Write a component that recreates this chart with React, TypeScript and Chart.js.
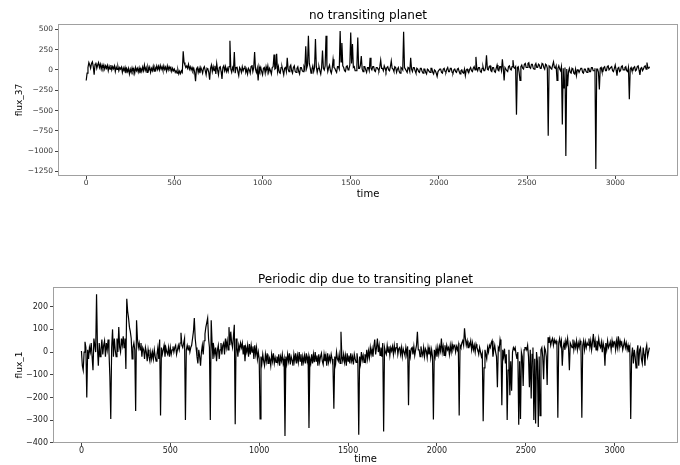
import React, { useEffect, useRef } from 'react';
import { Chart, registerables } from 'chart.js';

Chart.register(...registerables);

// sampling step of the light curves (time units per sample)
const timeStep = 5;

// "no transiting planet" light curve (flux_37), one value per 5 time units
const flux37: number[] = [
  -130, -40, 30, 90, 60, 20, 80, 100, 40, -60, 70, 90, 20, 60, 90, 30, 70, 10, 60, 20,
  60, 10, 50, 20, 55, -10, 45, 10, 60, 0, 40, 15, 50, -20, 35, 5, 40, -10, 30, 10,
  35, -30, 25, -10, 30, -40, 15, -20, 20, -50, 10, -30, 25, -20, 15, -40, 30, -10, 20, -25,
  25, -40, 15, -20, 35, -10, 60, -5, 30, -30, 40, 0, 35, -30, 20, -10, 45, -15, 30, 0,
  50, 5, 45, 0, 55, 10, 40, -5, 50, 5, 35, -15, 50, 0, 40, 10, 30, -20, 20, -10,
  10, -30, -10, -40, 0, -50, -15, -45, -10, -30, 230, 90, 60, 30, 50, 20, 70, 10, 40, 0,
  30, -10, 20, -30, -140, 10, 30, -30, 20, -40, 30, 0, -40, 20, 40, -10, -60, 20, 10, -30,
  -120, 20, 60, -20, 40, -10, 50, -50, 80, 0, -60, 30, 40, -20, -110, 30, 50, -10, 40, -20,
  20, -20, 40, 360, 10, -30, 30, 0, 220, -40, 30, 40, -20, -70, 30, 10, -30, 40, -10, 20,
  50, -30, 10, -50, 20, 0, -40, 40, 60, -20, 30, 220, 10, -30, 20, -130, 40, -10, 30, -20,
  -60, 20, 30, -40, 40, -10, 50, -30, 20, -10, -50, 30, 40, 190, 10, 20, 200, -20, 40, -30,
  -40, 30, 40, -10, -60, 20, 30, -20, 150, 10, -20, 40, 60, -10, -40, 30, 50, -20, -30, 20,
  40, -20, -50, 30, 30, -10, -20, 40, 10, 290, 20, 60, 420, 80, 30, -40, 10, 50, -20, 30,
  380, 40, -30, 20, 40, -10, -50, 30, 240, 20, 0, 50, 420, 60, -20, 30, 60, -10, -40, 20,
  130, 30, 20, -10, -30, 40, 40, 10, 480, 100, 330, 50, 30, -10, -20, 40, 50, 0, 10, 60,
  460, 80, 320, 30, 40, -10, -10, 50, 400, 20, 20, 60, 170, 10, -20, 40, 40, 0, -30, 30,
  30, -10, 150, 20, 0, 40, 40, -10, -20, 30, 30, 10, -10, 40, 120, 20, 20, -10, 50, 20,
  -20, 30, 40, 0, -10, 40, 110, 20, 10, -20, 40, 30, -30, 10, 30, -20, -40, 30, 20, 0,
  470, 30, 10, -10, -30, 30, 20, -20, 150, 10, -20, 30, 30, -10, -40, 20, 10, -20, -30, 20,
  20, -20, -40, 10, 10, -30, -50, 10, 0, -20, -30, 20, 20, -30, -50, 0, -10, -40, -80, -20,
  -20, 10, 10, -30, -40, 10, 20, -20, -30, 10, 30, -20, -20, 20, 20, -30, -40, 0, 10, -20,
  -30, 10, 20, -20, -50, -10, 0, -30, -40, 10, -70, 0, 10, -20, -30, 10, 30, -10, -20, 20,
  40, 0, 160, 20, -10, 30, 30, -20, -30, 20, 40, -10, -10, 30, 180, 10, 0, 40, 50, -10,
  -20, 30, 30, -20, -30, 20, 60, 0, -10, 40, 40, -10, 130, 20, -130, 30, 30, -10, -20, 40,
  50, 10, 0, 40, 120, 30, 20, 40, -550, 30, 40, -30, -130, 40, 60, 20, 10, 70, 80, 30,
  30, 80, 90, 30, 20, 70, 70, 20, 10, 60, 80, 30, 30, 70, 60, 20, 20, 80, 70, 30,
  10, 70, 60, 20, -810, 50, 40, 20, 10, 60, 100, 30, 20, 50, -130, 20, 50, 10, -10, 40,
  -670, 20, -220, 30, -1060, 10, -200, -20, 20, -30, -40, 20, 10, -40, -50, 10, -70, 0, 0, -30,
  -30, 20, 20, -30, -40, 10, 10, -20, -30, 20, 20, -20, -20, 30, 30, -10, -10, 20, -1220, 10,
  10, -30, -240, 20, 30, -20, -20, 30, 40, -10, -10, 40, 50, 0, 0, 30, 40, -10, -20, 20,
  60, 0, -70, 20, 30, -20, -10, 40, 50, 0, 0, 30, 40, -10, -20, 30, -360, 10, 30, -10,
  -10, 30, 40, -10, 0, 40, 50, 0, -60, 20, 30, -10, 10, 40, 50, 10, 90, 30, 20, 40,
];

// "Periodic dip due to transiting planet" light curve (flux_1), one value per 5 time units
const flux1: number[] = [
  5, -60, -80, 0, 45, 20, -200, 10, -30, 20, 0, 40, -20, -80, 60, 30, 0, 255, 20, -60,
  40, -20, 10, 55, -10, 30, 50, -20, 40, 10, 55, 0, -110, -295, 20, 100, -20, 60, 10, -20,
  60, 0, 110, 20, 0, 60, 30, 70, 20, 60, -75, 235, 180, 150, 110, 90, 60, -30, 20, 40,
  10, -260, 140, 60, 20, 40, 10, 40, -20, 20, 10, -30, 20, 0, -40, 10, -20, -40, 0, -30,
  0, -30, 10, -20, -40, -10, 20, -30, 55, -280, 20, -10, 10, 30, -20, 20, 0, -10, 20, -20,
  20, -10, 10, 25, 0, 20, 30, -10, 10, 30, 10, 40, 85, 30, 20, 40, 60, -300, 10, 30,
  10, 30, 0, 20, 30, 60, 90, 150, 60, 20, -20, -50, 10, -20, -60, 0, 30, -10, 50, 80,
  110, 130, 150, 60, 20, -300, 140, 40, -30, 20, -10, 20, -40, 10, 30, -30, 10, 40, -10, 30,
  40, -10, 60, 20, 50, 10, 110, 30, 90, 40, 20, 70, 120, -318, 60, 20, -20, 30, 10, 40,
  20, 40, -10, 30, -40, 20, 0, 30, -20, 35, -10, 30, 0, 25, -30, 30, -10, 20, -30, 0,
  -30, -295, -20, -50, -10, -40, -60, -10, -40, -5, -50, -20, -30, -60, -10, -40, -5, -50, -25, -45,
  -20, -45, -10, -60, -20, -40, -10, -50, -30, -370, -20, -50, -10, -40, -5, -55, -20, -35, -60, -10,
  -40, -5, -50, -15, -45, 0, -40, -10, -60, -20, -45, -15, -50, -5, -40, -20, -335, -30, -50, -10,
  -50, -10, -45, 0, -40, -15, -60, -10, -45, -20, -5, -40, -55, -10, -40, -15, -60, -5, -45, -20,
  -40, -10, -30, -60, -250, -20, -50, 0, -30, -40, -10, -50, 90, -20, -40, -10, -45, -15, -60, -5,
  -40, -15, -50, -5, -40, -20, -55, -10, -30, -45, -5, -40, -365, -20, -50, 0, -35, -15, -45, -10,
  -35, 10, -30, 5, -25, 20, -10, 15, -20, 25, 55, -10, 20, 60, 0, 30, -15, 20, -20, 40,
  -350, 20, 0, -10, 30, 0, 25, -15, 20, 5, 25, -10, 30, 0, 20, 40, -10, 15, 20, -10,
  20, -20, 15, 0, -15, 20, -10, 25, -235, 10, -20, 15, 20, -10, 25, -15, 10, 30, 90, 10,
  10, -20, 25, 0, -15, 20, -20, 15, 5, -25, 20, -10, 15, -25, 10, -20, -297, 10, -20, 15,
  -20, 20, -10, 25, 5, 60, 0, 25, -15, 30, -5, 30, 10, 20, -10, 30, 0, 35, 10, 25,
  30, 0, 25, 10, 30, -280, 30, 20, 40, 50, 30, 105, 60, 30, 50, 20, 40, 30, 50, 10,
  40, 10, 30, 0, 35, 20, 10, -10, 20, 0, -20, -5, -305, -70, 10, -10, -30, 20, 0, 30,
  20, 40, 50, -20, 10, 30, 0, -20, -155, 20, 10, 55, 30, -235, 10, -20, 15, -50, -10, -300,
  -80, 10, -190, -40, -170, 0, 20, 10, 20, -10, -30, 0, -320, -40, -295, 0, -20, -150, 10, 20,
  20, 10, 30, -20, -155, 10, -205, -10, 20, -300, -30, -315, 0, -40, -330, -20, -280, 10, 20, -20,
  -120, 20, 10, -20, -145, 65, 40, 60, 30, 50, 60, 30, 55, 40, 50, 30, -290, 40, 60, 30,
  50, -60, 20, 40, 10, 50, 30, 60, 20, -80, 40, 30, 20, 55, 10, 40, 20, 50, 10, 40,
  20, 50, 30, -290, 30, 50, 10, 45, 20, 40, 30, 60, 20, 50, 10, 45, 80, 20, 50, 10,
  50, 20, 60, 30, 20, 45, 0, 40, 20, -60, 40, 10, 50, 20, 30, 45, 10, 50, 20, 40,
  45, 10, 50, 20, 70, 20, 50, 30, 40, 10, 30, 50, 20, 40, 10, 30, 0, 20, -295, -20,
  20, -50, 10, -20, -70, 0, 30, -60, 10, 20, -30, -50, 20, -10, -60, 10, 30, -20, 0, 20,
];

const xTicks = [0, 500, 1000, 1500, 2000, 2500, 3000];
const topYTicks = [500, 250, 0, -250, -500, -750, -1000, -1250];
const bottomYTicks = [200, 100, 0, -100, -200, -300, -400];

const topTitle = 'no transiting planet';
const bottomTitle = 'Periodic dip due to transiting planet';
const topYLabel = 'flux_37';
const bottomYLabel = 'flux_1';
const xLabel = 'time';

const FONT = "'DejaVu Sans', 'Liberation Sans', sans-serif";

const framePlugin = {
  id: 'frame',
  afterDraw(chart: any) {
    const { ctx, chartArea: a } = chart;
    ctx.save();
    ctx.strokeStyle = '#a0a0a0';
    ctx.lineWidth = 1;
    ctx.strokeRect(
      Math.round(a.left) + 0.5,
      Math.round(a.top) + 0.5,
      Math.round(a.right) - Math.round(a.left) - 1,
      Math.round(a.bottom) - Math.round(a.top) - 1
    );
    ctx.restore();
  },
};

const fmt = (v: number) => String(v).replace('-', '\u2212');

type PanelProps = {
  values: number[];
  yTicks: number[];
  yMin: number;
  yMax: number;
  title: string;
  yLabel: string;
  yWidth: number;
  xHeight: number;
  titlePadTop: number;
  titlePadBottom: number;
  tickSize: number;
  tickColor: string;
  height: number;
};

function Panel(p: PanelProps) {
  const ref = useRef<HTMLCanvasElement | null>(null);
  useEffect(() => {
    if (!ref.current) return;
    const data = p.values.map((v, i) => ({ x: i * timeStep, y: v }));
    const chart = new Chart(ref.current, {
      type: 'line',
      data: {
        datasets: [
          {
            data,
            borderColor: '#000000',
            borderWidth: 1.2,
            pointRadius: 0,
            tension: 0,
            fill: false,
          },
        ],
      },
      plugins: [framePlugin],
      options: {
        responsive: false,
        animation: false,
        devicePixelRatio: 1,
        layout: { padding: { left: 0, right: 2, top: 0, bottom: 0 } },
        plugins: {
          legend: { display: false },
          tooltip: { enabled: false },
          title: {
            display: true,
            text: p.title,
            fullSize: false,
            color: '#000',
            font: { family: FONT, size: 12, weight: 'normal' },
            padding: { top: p.titlePadTop, bottom: p.titlePadBottom },
          },
        },
        scales: {
          x: {
            type: 'linear',
            min: -160,
            max: 3356,
            afterFit: (s: any) => {
              s.height = p.xHeight;
            },
            afterBuildTicks: (s: any) => {
              s.ticks = xTicks.map((v) => ({ value: v }));
            },
            grid: {
              drawOnChartArea: false,
              drawTicks: true,
              tickLength: 3,
              tickColor: '#444',
            },
            border: { display: false },
            ticks: {
              padding: 0,
              maxRotation: 0,
              autoSkip: false,
              color: p.tickColor,
              font: { family: FONT, size: p.tickSize },
              callback: (v: any) => fmt(Number(v)),
            },
            title: {
              display: true,
              text: xLabel,
              color: '#000',
              font: { family: FONT, size: 10 },
              padding: { top: 0, bottom: 0 },
            },
          },
          y: {
            type: 'linear',
            min: p.yMin,
            max: p.yMax,
            afterFit: (s: any) => {
              s.width = p.yWidth;
            },
            afterBuildTicks: (s: any) => {
              s.ticks = p.yTicks.map((v) => ({ value: v }));
            },
            grid: {
              drawOnChartArea: false,
              drawTicks: true,
              tickLength: 3,
              tickColor: '#444',
            },
            border: { display: false },
            ticks: {
              padding: 2,
              autoSkip: false,
              color: p.tickColor,
              font: { family: FONT, size: p.tickSize },
              callback: (v: any) => fmt(Number(v)),
            },
            title: {
              display: true,
              text: p.yLabel,
              color: '#000',
              font: { family: FONT, size: 9 },
              padding: { top: 14.5, bottom: 0 },
            },
          },
        },
      },
    } as any);
    return () => chart.destroy();
  }, []);
  return <canvas ref={ref} width={680} height={p.height} style={{ display: 'block', width: 680, height: p.height }} />;
}

export default function App() {
  return (
    <div style={{ position: 'absolute', left: 0, top: 0, width: 680, height: 465, background: '#fff', overflow: 'hidden' }}>
      <div style={{ position: 'absolute', left: 0, top: 0 }}>
        <Panel
          values={flux37}
          yTicks={topYTicks}
          yMin={-1305}
          yMax={565}
          title={topTitle}
          yLabel={topYLabel}
          yWidth={58}
          xHeight={24}
          titlePadTop={8.6}
          titlePadBottom={1}
          tickSize={7.5}
          tickColor="#333"
          height={200}
        />
      </div>
      <div style={{ position: 'absolute', left: 0, top: 265 }}>
        <Panel
          values={flux1}
          yTicks={bottomYTicks}
          yMin={-401}
          yMax={287}
          title={bottomTitle}
          yLabel={bottomYLabel}
          yWidth={53}
          xHeight={22}
          titlePadTop={7.6}
          titlePadBottom={0}
          tickSize={8}
          tickColor="#222"
          height={200}
        />
      </div>
    </div>
  );
}
